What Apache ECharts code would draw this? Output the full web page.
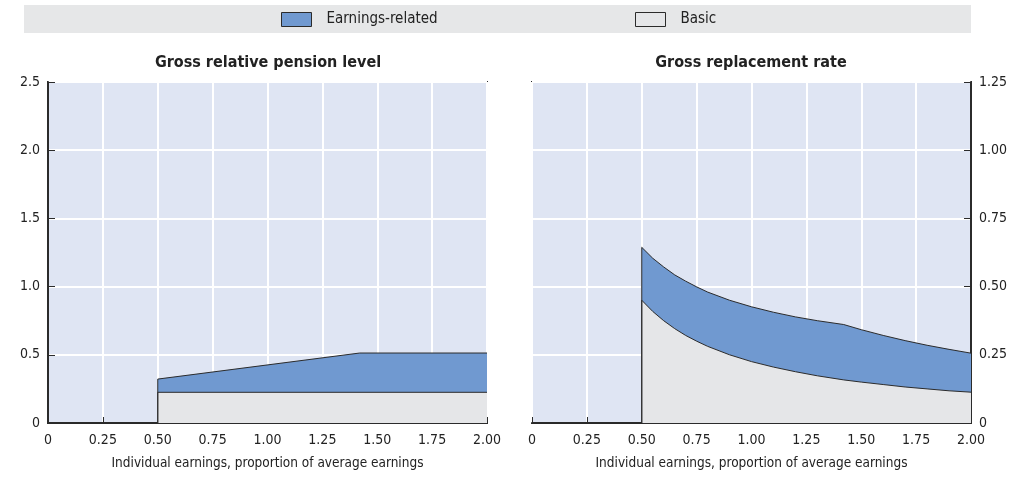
<!DOCTYPE html>
<html>
<head>
<meta charset="utf-8">
<script src="https://cdn.jsdelivr.net/npm/echarts@6/dist/echarts.min.js"></script>
<style>
  html, body { margin: 0; padding: 0; background: #fff; }
  #chart { width: 1024px; height: 487px; }
</style>
</head>
<body>
<div id="chart"></div>
<script>
    // gross relative pension level (left panel)
    var levelX = [0, 0.5, 0.5, 1.42, 2.0];
    var levelTotal = [0, 0, 0.322, 0.513, 0.513];
    var levelBasicX = [0, 0.5, 0.5, 2.0];
    var levelBasic = [0, 0, 0.225, 0.225];

    // gross replacement rate (right panel)
    var rateX = [0, 0.5, 0.5, 0.55, 0.6, 0.65, 0.7, 0.75, 0.8, 0.9, 1.0, 1.1, 1.2, 1.3, 1.42, 1.5, 1.6, 1.7, 1.8, 1.9, 2.0];
    var rateTotal = [0, 0, 0.644, 0.604, 0.572, 0.543, 0.520, 0.499, 0.480, 0.450, 0.426, 0.406, 0.389, 0.375, 0.361, 0.342, 0.321, 0.302, 0.285, 0.270, 0.256];
    var rateBasic = [0, 0, 0.450, 0.409, 0.375, 0.346, 0.321, 0.300, 0.281, 0.250, 0.225, 0.205, 0.188, 0.173, 0.158, 0.150, 0.141, 0.132, 0.125, 0.118, 0.113];

    var legendNames = ['Earnings-related', 'Basic'];
    var titles = ['Gross relative pension level', 'Gross replacement rate'];
    var xName = 'Individual earnings, proportion of average earnings';

    var blue = '#7099d0', grey = '#e5e6e8', dark = '#2b2b2b';
    var font = "'Liberation Sans Narrow', 'DejaVu Sans Condensed', 'Roboto', sans-serif";

    function pairs(xs, ys) {
        return xs.map(function (x, i) { return [x, ys[i]]; });
    }

    function areaSeries(name, color, xi, yi, data) {
        return {
            type: 'line', name: name, xAxisIndex: xi, yAxisIndex: yi,
            data: data, symbol: 'none', smooth: false,
            itemStyle: { color: color },
            lineStyle: { color: dark, width: 1 },
            areaStyle: { color: color, opacity: 1, origin: 'start' }
        };
    }

    function xAxis(gi) {
        return {
            type: 'value', gridIndex: gi, min: 0, max: 2, interval: 0.25,
            name: xName, nameLocation: 'middle', nameGap: 33,
            nameTextStyle: { fontFamily: font, fontSize: 13.5, color: '#222' },
            axisLine: { show: true, onZero: false, lineStyle: { color: dark, width: 2 } },
            axisTick: { show: true, inside: true, length: 6, lineStyle: { color: dark } },
            axisLabel: {
                fontFamily: font, fontSize: 14, color: '#222', margin: 10,
                formatter: function (v) { return v === 0 ? '0' : v.toFixed(2); }
            },
            splitLine: { show: true, lineStyle: { color: '#fff', width: 2 } }
        };
    }

    function yAxis(gi, max, step, digits, pos) {
        return {
            type: 'value', gridIndex: gi, min: 0, max: max, interval: step, position: pos,
            axisLine: { show: true, onZero: false, lineStyle: { color: dark, width: 2 } },
            axisTick: { show: true, inside: true, length: 7, lineStyle: { color: dark } },
            axisLabel: {
                fontFamily: font, fontSize: 14, color: '#222', margin: 8,
                formatter: function (v) { return v === 0 ? '0' : v.toFixed(digits); }
            },
            splitLine: { show: true, lineStyle: { color: '#fff', width: 2 } }
        };
    }

    var myChart = echarts.init(document.getElementById('chart'));

    var option = {
        animation: false,
        backgroundColor: '#fff',
        graphic: [{
            type: 'rect', left: 24, top: 5, z: -1,
            shape: { width: 947, height: 28 },
            style: { fill: '#e6e7e8' }
        }],
        legend: [{
            left: 276, top: 7, icon: 'rect', itemWidth: 30, itemHeight: 14,
            textStyle: { fontFamily: font, fontSize: 15, color: '#222', padding: [0, 0, 0, 10] },
            data: [{ name: legendNames[0], itemStyle: { color: blue, borderColor: dark, borderWidth: 1 } }]
        }, {
            left: 630, top: 7, icon: 'rect', itemWidth: 30, itemHeight: 14,
            textStyle: { fontFamily: font, fontSize: 15, color: '#222', padding: [0, 0, 0, 10] },
            data: [{ name: legendNames[1], itemStyle: { color: grey, borderColor: dark, borderWidth: 1 } }]
        }],
        title: [{
            text: titles[0], left: 263, top: 50, textAlign: 'center',
            textStyle: { fontFamily: font, fontSize: 16, fontWeight: 'bold', color: '#222' }
        }, {
            text: titles[1], left: 746, top: 50, textAlign: 'center',
            textStyle: { fontFamily: font, fontSize: 16, fontWeight: 'bold', color: '#222' }
        }],
        grid: [
            { left: 48, right: 537, top: 82, bottom: 64, show: true, backgroundColor: '#dfe5f3', borderColor: dark, borderWidth: 2 },
            { left: 532, right: 53, top: 82, bottom: 64, show: true, backgroundColor: '#dfe5f3', borderColor: dark, borderWidth: 2 }
        ],
        xAxis: [xAxis(0), xAxis(1)],
        yAxis: [yAxis(0, 2.5, 0.5, 1, 'left'), yAxis(1, 1.25, 0.25, 2, 'right')],
        series: [
            areaSeries(legendNames[0], blue, 0, 0, pairs(levelX, levelTotal)),
            areaSeries(legendNames[1], grey, 0, 0, pairs(levelBasicX, levelBasic)),
            areaSeries(legendNames[0], blue, 1, 1, pairs(rateX, rateTotal)),
            areaSeries(legendNames[1], grey, 1, 1, pairs(rateX, rateBasic))
        ]
    };

    myChart.setOption(option);
</script>
</body>
</html>
